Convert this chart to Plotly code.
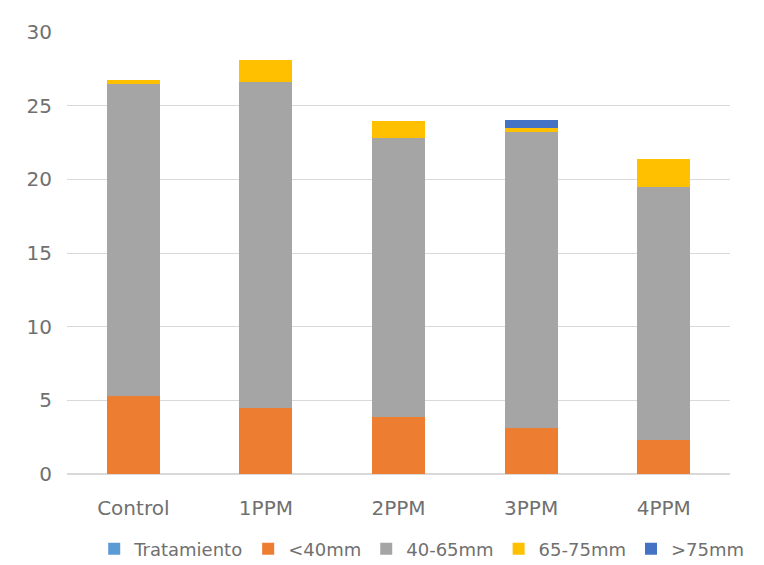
import plotly.graph_objects as go

categories = ["Control", "1PPM", "2PPM", "3PPM", "4PPM"]
tratamiento = [0, 0, 0, 0, 0]
lt40 = [5.3, 4.5, 3.9, 3.1, 2.3]
r40_65 = [21.2, 22.1, 18.9, 20.1, 17.2]
r65_75 = [0.25, 1.5, 1.15, 0.3, 1.9]
gt75 = [0, 0, 0, 0.5, 0]

series = [
    ("Tratamiento", tratamiento, "#5B9BD5"),
    ("<40mm", lt40, "#ED7D31"),
    ("40-65mm", r40_65, "#A5A5A5"),
    ("65-75mm", r65_75, "#FFC000"),
    (">75mm", gt75, "#4472C4"),
]

fig = go.Figure()
for name, vals, col in series:
    fig.add_trace(go.Bar(x=categories, y=vals, name=name, marker_color=col,
                         marker_line_width=0))

fig.update_layout(
    barmode="stack",
    bargap=0.6,
    width=756, height=557,
    margin=dict(l=59, r=34, t=24, b=91, autoexpand=False),
    plot_bgcolor="white", paper_bgcolor="white",
    font=dict(family="DejaVu Sans, sans-serif", size=20, color="#707070"),
    legend=dict(orientation="h", x=0.535, xanchor="center", y=-0.17, yanchor="middle",
                font=dict(size=18), traceorder="normal", itemwidth=30),
    yaxis=dict(range=[0, 30], dtick=5, showgrid=True, gridcolor="#D9D9D9",
               zeroline=True, zerolinecolor="#D9D9D9", showline=False,
               ticks="", ticklabelstandoff=14),
    xaxis=dict(showline=True, linecolor="#D9D9D9", ticks="", ticklabelstandoff=16),
)

fig.write_html("out.html")
